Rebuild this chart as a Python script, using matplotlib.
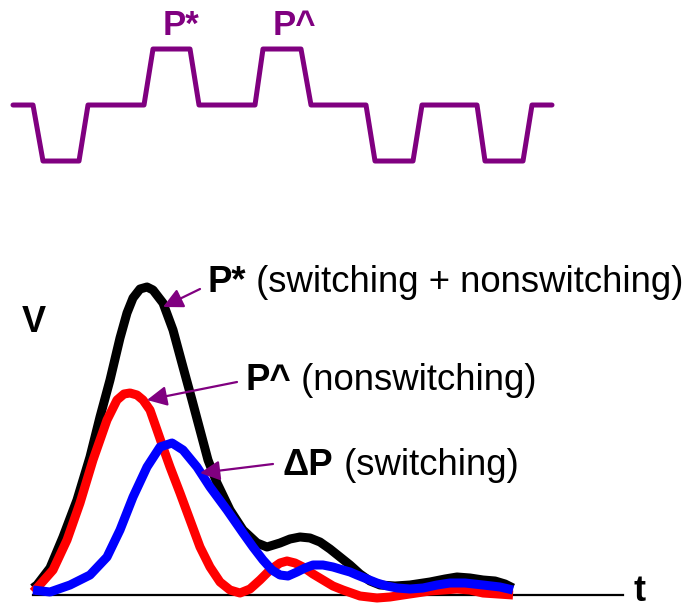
import matplotlib
matplotlib.use('Agg')
import matplotlib.pyplot as plt

plt.rcParams['font.family'] = ['Liberation Sans', 'DejaVu Sans']

PURPLE = '#800080'

# input pulse pattern (top): time, level (0 = idle, 1 = high, -1 = low)
pulse_t = [-2.0, 0.0, 1.0, 4.6, 5.5, 11.1, 12.0, 15.7, 16.6, 22.2, 23.0,
           26.8, 27.8, 33.3, 34.2, 38.0, 38.9, 44.4, 45.2, 49.0, 49.9, 51.9]
pulse_level = [0, 0, -1, -1, 0, 0, 1, 1, 0, 0, 1,
               1, 0, 0, -1, -1, 0, 0, -1, -1, 0, 0]

# output responses V(t)
black_t = [0.0, 0.4, 1.7, 3.0, 4.4, 5.7, 6.7, 7.7, 8.7, 9.4,
           10.0, 10.7, 11.4, 12.0, 13.0, 14.0, 15.0, 15.9, 16.7, 17.5,
           18.4, 19.7, 21.0, 22.4, 23.4, 24.7, 25.7, 26.7, 27.7, 28.7,
           29.7, 30.7, 31.7, 32.7, 33.7, 34.7, 36.2, 37.7, 39.7, 41.2,
           42.4, 43.7, 45.0, 46.2, 47.2, 48.0]
black_v = [0.7, 1.0, 2.7, 5.8, 9.5, 13.8, 17.8, 21.5, 25.7, 28.2,
           29.7, 30.6, 30.8, 30.5, 29.2, 26.5, 22.8, 19.5, 16.5, 13.5,
           11.2, 8.5, 6.5, 5.2, 4.8, 5.2, 5.6, 5.8, 5.7, 5.3,
           4.6, 3.8, 3.0, 2.1, 1.4, 1.0, 0.9, 1.0, 1.3, 1.6,
           1.8, 1.7, 1.5, 1.4, 1.1, 0.7]

red_t = [0.0, 0.4, 2.0, 3.4, 4.7, 6.0, 7.4, 8.4, 9.1, 9.7,
         10.4, 11.0, 11.7, 12.4, 13.2, 13.7, 14.7, 15.7, 16.7, 17.7,
         18.7, 19.7, 20.7, 21.7, 22.7, 23.7, 24.7, 25.4, 26.2, 27.0,
         28.0, 29.0, 30.0, 31.0, 32.7, 34.4, 35.7, 37.0, 39.7, 42.4,
         43.7, 45.0, 48.0]
red_v = [0.3, 0.7, 2.5, 5.5, 9.2, 13.5, 17.5, 19.5, 20.1, 20.2,
         20.0, 19.5, 18.5, 16.5, 14.2, 12.8, 10.2, 7.5, 4.8, 2.8,
         1.3, 0.5, 0.2, 0.6, 1.5, 2.5, 3.2, 3.4, 3.2, 2.8,
         2.1, 1.5, 0.9, 0.5, -0.1, -0.3, -0.2, 0.0, 0.4, 0.6,
         0.5, 0.2, 0.0]

blue_t = [0.0, 1.7, 3.7, 5.7, 7.4, 8.7, 10.0, 11.4, 12.7, 13.9,
          15.0, 16.4, 17.7, 19.4, 21.0, 22.0, 23.0, 23.9, 24.7, 25.5,
          26.4, 27.2, 28.0, 29.0, 30.0, 31.0, 31.7, 32.4, 33.4, 34.4,
          35.4, 36.4, 37.7, 39.0, 40.4, 41.7, 43.2, 45.0, 46.7, 48.0]
blue_v = [0.5, 0.3, 1.0, 2.0, 3.8, 6.5, 9.8, 12.8, 14.8, 15.2,
          14.5, 12.8, 10.8, 8.5, 6.2, 4.8, 3.5, 2.5, 2.0, 1.9,
          2.3, 2.7, 3.0, 3.0, 2.8, 2.5, 2.3, 2.0, 1.6, 1.2,
          0.9, 0.7, 0.6, 0.7, 1.0, 1.2, 1.2, 1.0, 0.8, 0.5]

t_axis = [0.0, 59.0]

fig = plt.figure(figsize=(6.9, 6.1), dpi=100)

# --- top: input pattern ---
ax_top = fig.add_axes([0, 410 / 610, 1, 200 / 610])
ax_top.plot(pulse_t, pulse_level, color=PURPLE, lw=3.6,
            solid_joinstyle='round', solid_capstyle='round')
ax_top.set_xlim(-3.3, 65.7)
ax_top.set_ylim(-1.696, 1.875)
ax_top.axis('off')
ax_top.text(13.0, 1.25, 'P*', color=PURPLE, fontsize=25, fontweight='bold',
            ha='left', va='baseline')
ax_top.text(24.0, 1.25, 'P^', color=PURPLE, fontsize=25, fontweight='bold',
            ha='left', va='baseline')

# --- bottom: responses ---
ax = fig.add_axes([0, 0, 1, 410 / 610])
ax.plot(t_axis, [0, 0], color='black', lw=1.6)
ax.plot(black_t, black_v, color='black', lw=6.5, solid_joinstyle='round', solid_capstyle='butt')
ax.plot(red_t, red_v, color='red', lw=6.5, solid_joinstyle='round', solid_capstyle='butt')
ax.plot(blue_t, blue_v, color='blue', lw=6.5, solid_joinstyle='round', solid_capstyle='butt')
ax.set_xlim(-3.3, 65.7)
ax.set_ylim(-1.5, 39.5)
ax.axis('off')

ax.text(-1.1, 26.3, 'V', fontsize=26, fontweight='bold', ha='left', va='baseline')
ax.text(60.0, -0.6, 't', fontsize=26, fontweight='bold', ha='left', va='baseline')

arrow_kw = dict(arrowstyle='-|>,head_length=0.6,head_width=0.3',
                color=PURPLE, lw=1.6, mutation_scale=20,
                shrinkA=0, shrinkB=0)

labels = [
    ('P*', ' (switching + nonswitching)', (17.5, 30.3), (16.7, 30.6), (13.0, 28.8)),
    ('P^', ' (nonswitching)', (21.2, 20.5), (20.4, 21.3), (11.4, 19.5)),
    ('\u0394P', ' (switching)', (25.0, 12.0), (24.0, 13.1), (16.7, 12.2)),
]
for bold, rest, pos, tail, tip in labels:
    ax.annotate('', xy=tip, xytext=tail, arrowprops=arrow_kw)
    t1 = ax.text(pos[0], pos[1], bold, fontsize=26.3, fontweight='bold',
                 ha='left', va='baseline')
    ax.annotate(rest, xy=(1, 0), xycoords=t1, fontsize=26.3,
                ha='left', va='bottom')

fig.savefig('out.png', dpi=100)
